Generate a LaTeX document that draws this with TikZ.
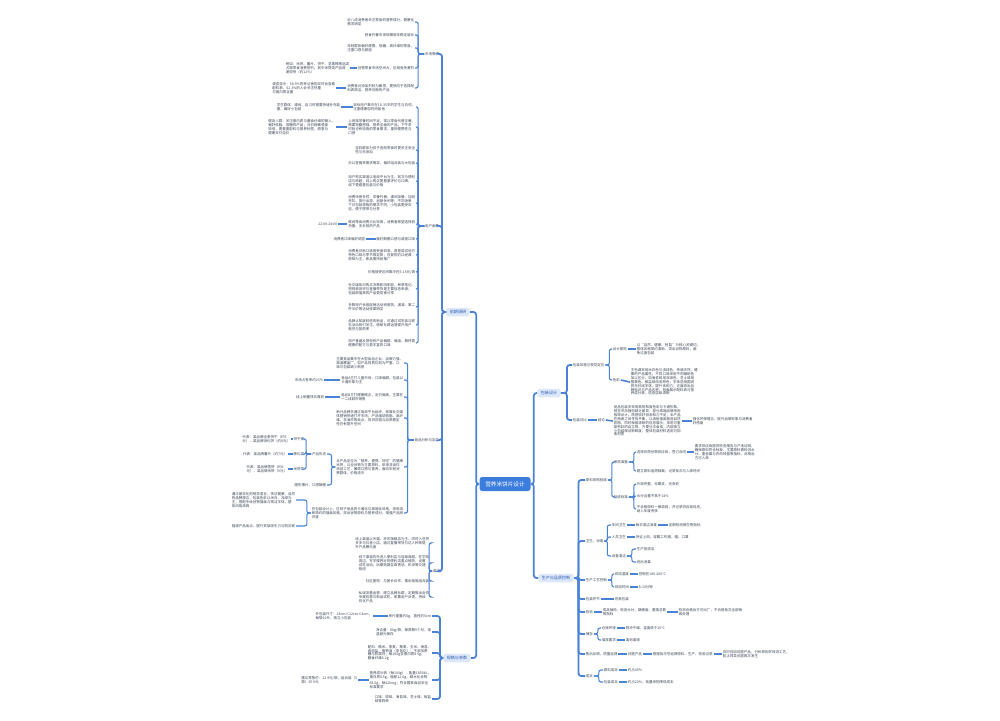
\documentclass[tikz,border=0pt]{standalone}
\usepackage{fontspec}
\setmainfont{Noto Sans CJK SC}
\usepackage{tikz}
\usetikzlibrary{positioning}
\definecolor{lineblue}{HTML}{4A82D6}
\definecolor{rootblue}{HTML}{3B7DDD}
\definecolor{mainfill}{HTML}{DCE7FA}
\definecolor{maintext}{HTML}{2E5CAE}
\definecolor{leaftext}{HTML}{3D4756}
\tikzset{
  rootnode/.style={fill=rootblue,text=white,rounded corners=1.5pt,font=\fontsize{3.2}{3.8}\selectfont,minimum width=1.02cm,minimum height=0.28cm,inner sep=0pt},
  mainnode/.style={fill=mainfill,text=maintext,rounded corners=1pt,font=\fontsize{2.3}{2.8}\selectfont,minimum height=0.17cm,inner xsep=0.07cm,inner ysep=0pt},
  leaf/.style={text=leaftext,font=\fontsize{2}{2.2}\selectfont,align=left,inner sep=0.3pt},
  trunk/.style={draw=lineblue,line width=1pt,rounded corners=1.5pt},
  twig/.style={draw=lineblue,line width=0.6pt,rounded corners=1.2pt},
  tie/.style={draw=lineblue,line width=0.9pt}
}

\begin{document}
\begin{tikzpicture}[x=0.02cm,y=-0.02cm]
\fill[white] (0,0) rectangle (1000,720);
\useasboundingbox (0,0) rectangle (1000,720);

\node[rootnode] (root) at (505,484) {营养米饼片设计};

% left: research
\node[mainnode] (pre) at (458,312) {前期调研};
\node[leaf,anchor=east] (need) at (440,54) {市场需求};
\node[leaf,anchor=east] (user) at (440,226) {用户画像};
\node[leaf,anchor=east] (rival) at (440,440) {竞品分析与定位};
\node[leaf,anchor=east] (chan) at (441,571) {渠道};

\node[leaf,anchor=east] (a1) at (415,22) {近八成消费者关注零食的营养成分，健康化\\需求明显};
\node[leaf,anchor=east] (a2) at (415,35) {轻食代餐市场规模逐年稳定增长};
\node[leaf,anchor=east] (a3) at (415,48) {年轻群体偏好便携、低糖、高纤维的零食，\\注重口感与颜值};
\node[leaf,anchor=east] (a4) at (415,68) {谷物零食市场空间大，区域竞争激烈};
\node[leaf,anchor=east] (a4x) at (350,68) {例如：米饼、薯片、饼干、坚果棒等品类\\占据零食消费前列，其中米饼类产品增\\速较快（约12\%）};
\node[leaf,anchor=east] (a5) at (415,88) {消费者对添加剂较为敏感，更倾向于选择配\\料表简洁、营养均衡的产品};
\node[leaf,anchor=east] (a5x) at (336,88) {调查显示：68.5\%的受访者购买时会查看\\配料表，52.3\%的人会关注热量\\与蛋白质含量};

\node[leaf,anchor=east] (b1) at (416,107) {目标用户集中在18-35岁的学生与白领，\\注重健康但时间紧张};
\node[leaf,anchor=east] (b1x) at (341,107) {学生群体：课间、自习时需要快速补充能\\量，偏好小包装};
\node[leaf,anchor=east] (b2) at (416,127) {上班族早餐时间不足，常以零食代替正餐，\\需要饱腹感强、营养全面的产品；下午茶\\时段也有较高的零食需求，重视便携性与\\口感};
\node[leaf,anchor=east] (b2x) at (336,127) {健身人群：关注蛋白质与膳食纤维的摄入，\\偏好低脂、低糖的产品；对价格敏感度\\较低，更看重配料与营养标签，愿意为\\健康支付溢价};
\node[leaf,anchor=east] (b3) at (416,150) {宝妈群体为孩子选购零食时更关注安全\\性与无添加};
\node[leaf,anchor=east] (b4) at (416,163) {办公室囤货需求明显，偏好组合装与大包装};
\node[leaf,anchor=east] (b5) at (416,181) {用户购买渠道以电商平台为主，其次为便利\\店与商超；线上购买更看重评价与口碑，\\线下更看重包装与价格};
\node[leaf,anchor=east] (b6) at (416,203) {消费场景多样：早餐代餐、课间加餐、加班\\充饥、旅行出游、追剧休闲等；不同场景\\下对包装规格的需求不同，小包装更受欢\\迎，便于携带与分享};
\node[leaf,anchor=east] (b7) at (416,224) {夜间零食消费占比较高，消费者希望选择低\\热量、无负担的产品};
\node[leaf,anchor=east] (b7x) at (338,224) {22:00-24:00};
\node[leaf,anchor=east] (b8) at (416,239) {偏好酥脆口感与咸香口味};
\node[leaf,anchor=east] (b8x) at (366,239) {消费者口味偏好调查};
\node[leaf,anchor=east] (b9) at (416,255) {消费者对新口味接受度较高，愿意尝试地方\\特色口味与季节限定款；但复购仍以经典\\原味为主，新品需持续推广};
\node[leaf,anchor=east] (b10) at (416,272) {价格接受区间集中在5-15元/袋};
\node[leaf,anchor=east] (b11) at (416,289) {社交媒体对购买决策影响明显，种草笔记、\\短视频测评与直播带货是主要信息来源；\\包装颜值高的产品更易被分享};
\node[leaf,anchor=east] (b12) at (416,307) {多数用户会因促销活动而囤货，满减、第二\\件半价等活动效果明显};
\node[leaf,anchor=east] (b13) at (416,325) {品牌认知度较低的新品，可通过试吃装与联\\名活动吸引关注，借助社群运营提升用户\\粘性与复购率};
\node[leaf,anchor=east] (b14) at (416,343) {用户普遍反馈现有产品偏甜、偏油，期待更\\健康的配方与更丰富的口味};

\node[leaf,anchor=east] (c1) at (404,363) {主要竞品集中在大型食品企业，品牌力强、\\渠道覆盖广，但产品同质化较为严重，口\\味与包装缺少新意};
\node[leaf,anchor=east] (c2) at (404,380) {竞品A主打儿童市场，口味偏甜，包装以\\卡通形象为主};
\node[leaf,anchor=east] (c2x) at (324,380) {市场占有率约23\%};
\node[leaf,anchor=east] (c3) at (404,397) {竞品B主打健康概念，定价偏高，主要在\\一二线城市销售};
\node[leaf,anchor=east] (c3x) at (325,397) {线上销量排名靠前};
\node[leaf,anchor=east] (c4) at (404,418) {新兴品牌多通过电商平台起步，依靠社交媒\\体营销快速打开市场；产品强调低脂、高纤\\维、非油炸等卖点，但供应链与品质稳定\\性仍有提升空间};
\node[leaf,anchor=east] (c5) at (404,467) {本产品定位为“营养、便携、好吃”的健康\\米饼，以全谷物为主要原料，采用非油炸\\烘焙工艺，兼顾口感与营养，面向年轻消\\费群体，价格适中};
\node[leaf,anchor=east] (c5a) at (327,454) {产品形态};
\node[leaf,anchor=east] (c5a1) at (305,439) {饼干类};
\node[leaf,anchor=east] (c5a1x) at (291,439) {代表：某品牌全麦饼干（约5\\元）、某品牌消化饼（约8元）};
\node[leaf,anchor=east] (c5a2) at (305,454) {膨化类};
\node[leaf,anchor=east] (c5a2x) at (288,454) {代表：某品牌薯片（约7元）};
\node[leaf,anchor=east] (c5a3) at (305,469) {米饼类};
\node[leaf,anchor=east] (c5a3x) at (288,469) {代表：某品牌雪饼（约6\\元）、某品牌米饼（9元）};
\node[leaf,anchor=east] (c5b) at (327,485) {圆形薄片，口感酥脆};
\node[leaf,anchor=east] (c6) at (404,513) {在包装设计上，区别于竞品的卡通化与高端化风格，采用清\\新简约的插画风格，突出谷物原料与营养成分，增强产品辨\\识度};
\node[leaf,anchor=east] (c6a) at (296,500) {通过差异化的视觉语言，传达健康、自然\\的品牌理念，包装色彩以米白、浅绿为\\主，搭配手绘谷物插画与简洁字体，整\\体风格清爽};
\node[leaf,anchor=east] (c6b) at (296,526) {强调产品卖点，提升货架吸引力与购买欲};

\node[leaf,anchor=east] (d1) at (430,543) {线上渠道以天猫、京东旗舰店为主，同时入驻拼\\多多与抖音小店，通过直播带货与达人种草提\\升产品曝光度};
\node[leaf,anchor=east] (d2) at (430,563) {线下渠道优先进入便利店与连锁商超，在学校\\周边、写字楼附近的便利店重点铺货，设置\\试吃活动；后期拓展至高铁站、机场等交通\\枢纽};
\node[leaf,anchor=east] (d3) at (430,581) {社区团购：与团长合作，推出家庭组合装};
\node[leaf,anchor=east] (d4) at (430,597) {私域流量运营：建立品牌社群，定期推出会员\\专属优惠与新品试吃，收集用户反馈，持续\\优化产品};

% left: specification
\node[mainnode] (spec) at (457,658) {规格与参数};
\node[leaf,anchor=east] (e1) at (432,616) {单片重量约8g，直径约5cm};
\node[leaf,anchor=east] (e1x) at (373,616) {外包装尺寸：18cm×12cm×4cm，\\每袋10片，独立小包装};
\node[leaf,anchor=east] (e2) at (432,632) {净含量：80g/袋，保质期9个月，常\\温避光保存};
\node[leaf,anchor=east] (e3) at (432,653) {配料：糙米、燕麦、藜麦、玉米、海苔、\\食用盐、植物油（非氢化）；不添加蔗\\糖与防腐剂；每100g含蛋白质8.5g，\\膳食纤维6.2g};
\node[leaf,anchor=east] (e4) at (432,680) {营养成分表（每100g）：能量1850kJ，\\蛋白质8.5g，脂肪12.0g，碳水化合物\\68.0g，钠420mg；符合国家食品安全\\标准要求};
\node[leaf,anchor=east] (e4x) at (358,680) {建议零售价：12.9元/袋，组合装（3\\袋）35.9元};
\node[leaf,anchor=east] (e5) at (432,699) {口味：原味、海苔味、芝士味、椒盐\\味等四种};

% right: package
\node[mainnode] (pack) at (549,393) {包装设计};
\node[leaf,anchor=west] (f1) at (572,365) {包装风格与视觉定位};
\node[leaf,anchor=west] (f1a) at (612,349) {设计原则};
\node[leaf,anchor=west] (f1ax) at (636,349) {以“自然、健康、轻盈”为核心关键词，\\整体风格简约清新，突出谷物原料，避\\免过度包装};
\node[leaf,anchor=west] (f1b) at (612,380) {色彩};
\node[leaf,anchor=west] (f1bx) at (630,382) {主色调采用米白色与浅绿色，传递天然、健\\康的产品属性；不同口味采用不同辅助色\\加以区分，如海苔味用深绿色、芝士味用\\橙黄色、椒盐味用浅棕色；字体选用圆润\\的无衬线字体，提升亲和力；正面突出品\\牌标识与产品名称，背面展示配料表与营\\养成分表，信息层级清晰};
\node[leaf,anchor=west] (f2) at (572,420) {包装对比};
\node[leaf,anchor=west] (f2a) at (597,420) {结论};
\node[leaf,anchor=west] (f2ax) at (613,421) {竞品包装多采用高饱和度色彩与卡通形象，\\视觉冲击强但缺乏差异；部分高端品牌采用\\极简设计，质感较好但亲和力不足；本产品\\在两者之间寻找平衡，以清新插画营造自然\\氛围，同时保留清晰的信息展示；采用可重\\复密封的自立袋，方便分次食用，内部独立\\小包装保证新鲜度，整体包装材料选用可回\\收材质};
\node[leaf,anchor=west] (f2ay) at (692,421) {强化环保理念，提升品牌形象与消费者\\好感度};

% right: production
\node[mainnode] (prod) at (556,578) {生产与品质控制};
\node[leaf,anchor=west] (g1) at (585,480) {原料采购验收};
\node[leaf,anchor=west] (g1a) at (613,462) {采购准备};
\node[leaf,anchor=west] (g1a1) at (636,452) {选择优质谷物供应商，签订合同};
\node[leaf,anchor=west] (g1a1x) at (694,452) {要求供应商提供检验报告与产地证明，\\确保原料符合标准；主要原料需检测水\\分、重金属与农药残留等指标，合格后\\方可入库};
\node[leaf,anchor=west] (g1a2) at (636,471) {建立原料追溯档案，记录批次与入库时间};
\node[leaf,anchor=west] (g1b) at (613,497) {验收标准};
\node[leaf,anchor=west] (g1b1) at (636,484) {外观完整，无霉变、无虫蛀};
\node[leaf,anchor=west] (g1b2) at (636,496) {水分含量不高于14\%};
\node[leaf,anchor=west] (g1b3) at (636,509) {不合格原料一律退回，并记录供应商信息，\\纳入年度考核};
\node[leaf,anchor=west] (g2) at (585,541) {卫生、消毒};
\node[leaf,anchor=west] (g2a) at (611,525) {车间卫生};
\node[leaf,anchor=west] (g2ax) at (635,525) {每日清洁消毒};
\node[leaf,anchor=west] (g2ay) at (668,525) {定期检测微生物指标};
\node[leaf,anchor=west] (g2b) at (611,537) {人员卫生};
\node[leaf,anchor=west] (g2bx) at (635,537) {持证上岗，穿戴工作服、帽、口罩};
\node[leaf,anchor=west] (g2c) at (611,556) {设备清洁};
\node[leaf,anchor=west] (g2c1) at (636,549) {生产前清洁};
\node[leaf,anchor=west] (g2c2) at (636,562) {班后消毒};
\node[leaf,anchor=west] (g3) at (585,580) {生产工艺控制};
\node[leaf,anchor=west] (g3a) at (614,574) {烘焙温度};
\node[leaf,anchor=west] (g3ax) at (638,574) {控制在180-200℃};
\node[leaf,anchor=west] (g3b) at (614,587) {烘焙时间};
\node[leaf,anchor=west] (g3bx) at (638,587) {8-10分钟};
\node[leaf,anchor=west] (g4) at (585,599) {包装环节};
\node[leaf,anchor=west] (g4x) at (614,599) {充氮包装};
\node[leaf,anchor=west] (g5) at (585,612) {检验};
\node[leaf,anchor=west] (g5x) at (602,612) {成品抽检，检测水分、酥脆度、菌落总数\\等指标};
\node[leaf,anchor=west] (g5y) at (678,612) {检测合格后方可出厂，不合格批次全部销\\毁处理};
\node[leaf,anchor=west] (g6) at (585,634) {储存};
\node[leaf,anchor=west] (g6a) at (601,628) {仓库环境};
\node[leaf,anchor=west] (g6ax) at (625,628) {阴凉干燥，温度低于25℃};
\node[leaf,anchor=west] (g6b) at (601,640) {堆放要求};
\node[leaf,anchor=west] (g6bx) at (625,640) {离地离墙};
\node[leaf,anchor=west] (g7) at (585,654) {售后反馈、质量追溯};
\node[leaf,anchor=west] (g7a) at (627,654) {问题产品};
\node[leaf,anchor=west] (g7b) at (652,654) {根据批次号追溯原料、生产、检验记录};
\node[leaf,anchor=west] (g7c) at (722,654) {及时召回问题产品，分析原因并改进工艺，\\防止同类问题再次发生};
\node[leaf,anchor=west] (g8) at (585,676) {成本};
\node[leaf,anchor=west] (g8a) at (603,670) {原料成本};
\node[leaf,anchor=west] (g8ax) at (627,670) {约占45\%};
\node[leaf,anchor=west] (g8b) at (603,682) {包装成本};
\node[leaf,anchor=west] (g8bx) at (627,682) {约占20\%，批量采购降低成本};

% root links
\draw[trunk] (root.west) -- ++(-3,0) |- (pre.east);
\draw[trunk] (root.west) -- ++(-3,0) |- (spec.east);
\draw[trunk] (root.east) -- ++(3,0) |- (pack.west);
\draw[trunk] (root.east) -- ++(3,0) |- (prod.west);

% research links
\draw[trunk] (pre.west) -- ++(-4,0) |- (need.east);
\draw[trunk] (pre.west) -- ++(-4,0) |- (user.east);
\draw[trunk] (pre.west) -- ++(-4,0) |- (rival.east);
\draw[trunk] (pre.west) -- ++(-4,0) |- (chan.east);
\draw[twig] (need.west) -- ++(-6,0) |- (a1.east);
\draw[twig] (need.west) -- ++(-6,0) |- (a2.east);
\draw[twig] (need.west) -- ++(-6,0) |- (a3.east);
\draw[twig] (need.west) -- ++(-6,0) |- (a4.east);
\draw[twig] (need.west) -- ++(-6,0) |- (a5.east);
\draw[tie] (a4.west) -- (a4x.east);
\draw[tie] (a5.west) -- (a5x.east);
\draw[twig] (user.west) -- ++(-6,0) |- (b1.east);
\draw[twig] (user.west) -- ++(-6,0) |- (b2.east);
\draw[twig] (user.west) -- ++(-6,0) |- (b3.east);
\draw[twig] (user.west) -- ++(-6,0) |- (b4.east);
\draw[twig] (user.west) -- ++(-6,0) |- (b5.east);
\draw[twig] (user.west) -- ++(-6,0) |- (b6.east);
\draw[twig] (user.west) -- ++(-6,0) |- (b7.east);
\draw[twig] (user.west) -- ++(-6,0) |- (b8.east);
\draw[twig] (user.west) -- ++(-6,0) |- (b9.east);
\draw[twig] (user.west) -- ++(-6,0) |- (b10.east);
\draw[twig] (user.west) -- ++(-6,0) |- (b11.east);
\draw[twig] (user.west) -- ++(-6,0) |- (b12.east);
\draw[twig] (user.west) -- ++(-6,0) |- (b13.east);
\draw[twig] (user.west) -- ++(-6,0) |- (b14.east);
\draw[tie] (b1.west) -- (b1x.east);
\draw[tie] (b2.west) -- (b2x.east);
\draw[tie] (b7.west) -- (b7x.east);
\draw[tie] (b8.west) -- (b8x.east);
\draw[twig] (rival.west) -- ++(-6,0) |- (c1.east);
\draw[twig] (rival.west) -- ++(-6,0) |- (c2.east);
\draw[twig] (rival.west) -- ++(-6,0) |- (c3.east);
\draw[twig] (rival.west) -- ++(-6,0) |- (c4.east);
\draw[twig] (rival.west) -- ++(-6,0) |- (c5.east);
\draw[twig] (rival.west) -- ++(-6,0) |- (c6.east);
\draw[tie] (c2.west) -- (c2x.east);
\draw[tie] (c3.west) -- (c3x.east);
\draw[twig] (c5.west) -- ++(-4,0) |- (c5a.east);
\draw[twig] (c5.west) -- ++(-4,0) |- (c5b.east);
\draw[twig] (c5a.west) -- ++(-5,0) |- (c5a1.east);
\draw[twig] (c5a.west) -- ++(-5,0) |- (c5a2.east);
\draw[twig] (c5a.west) -- ++(-5,0) |- (c5a3.east);
\draw[tie] (c5a1.west) -- (c5a1x.east);
\draw[tie] (c5a2.west) -- (c5a2x.east);
\draw[tie] (c5a3.west) -- (c5a3x.east);
\draw[twig] (c6.west) -- ++(-4,0) |- (c6a.east);
\draw[twig] (c6.west) -- ++(-4,0) |- (c6b.east);
\draw[twig] (chan.west) -- ++(-3,0) |- (d1.east);
\draw[twig] (chan.west) -- ++(-3,0) |- (d2.east);
\draw[twig] (chan.west) -- ++(-3,0) |- (d3.east);
\draw[twig] (chan.west) -- ++(-3,0) |- (d4.east);

% specification links
\draw[trunk] (spec.west) -- ++(-3,0) |- (e1.east);
\draw[trunk] (spec.west) -- ++(-3,0) |- (e2.east);
\draw[trunk] (spec.west) -- ++(-3,0) |- (e3.east);
\draw[trunk] (spec.west) -- ++(-3,0) |- (e4.east);
\draw[trunk] (spec.west) -- ++(-3,0) |- (e5.east);
\draw[tie] (e1.west) -- (e1x.east);
\draw[tie] (e4.west) -- (e4x.east);

% package links
\draw[trunk] (pack.east) -- ++(6,0) |- (f1.west);
\draw[trunk] (pack.east) -- ++(6,0) |- (f2.west);
\draw[twig] (f1.east) -- ++(4,0) |- (f1a.west);
\draw[twig] (f1.east) -- ++(4,0) |- (f1b.west);
\draw[tie] (f1a.east) -- (f1ax.west);
\draw[tie] (f1b.east) -- (f1bx.west);
\draw[tie] (f2.east) -- (f2a.west);
\draw[tie] (f2a.east) -- (f2ax.west);
\draw[tie] (f2ax.east) -- (f2ay.west);

% production links
\draw[trunk] (prod.east) -- ++(4.5,0) |- (g1.west);
\draw[trunk] (prod.east) -- ++(4.5,0) |- (g2.west);
\draw[trunk] (prod.east) -- ++(4.5,0) |- (g3.west);
\draw[trunk] (prod.east) -- ++(4.5,0) |- (g4.west);
\draw[trunk] (prod.east) -- ++(4.5,0) |- (g5.west);
\draw[trunk] (prod.east) -- ++(4.5,0) |- (g6.west);
\draw[trunk] (prod.east) -- ++(4.5,0) |- (g7.west);
\draw[trunk] (prod.east) -- ++(4.5,0) |- (g8.west);
\draw[twig] (g1.east) -- ++(4,0) |- (g1a.west);
\draw[twig] (g1.east) -- ++(4,0) |- (g1b.west);
\draw[twig] (g1a.east) -- ++(5,0) |- (g1a1.west);
\draw[twig] (g1a.east) -- ++(5,0) |- (g1a2.west);
\draw[tie] (g1a1.east) -- (g1a1x.west);
\draw[twig] (g1b.east) -- ++(5,0) |- (g1b1.west);
\draw[twig] (g1b.east) -- ++(5,0) |- (g1b2.west);
\draw[twig] (g1b.east) -- ++(5,0) |- (g1b3.west);
\draw[twig] (g2.east) -- ++(3,0) |- (g2a.west);
\draw[twig] (g2.east) -- ++(3,0) |- (g2b.west);
\draw[twig] (g2.east) -- ++(3,0) |- (g2c.west);
\draw[tie] (g2a.east) -- (g2ax.west);
\draw[tie] (g2ax.east) -- (g2ay.west);
\draw[tie] (g2b.east) -- (g2bx.west);
\draw[twig] (g2c.east) -- ++(5,0) |- (g2c1.west);
\draw[twig] (g2c.east) -- ++(5,0) |- (g2c2.west);
\draw[twig] (g3.east) -- ++(4,0) |- (g3a.west);
\draw[twig] (g3.east) -- ++(4,0) |- (g3b.west);
\draw[tie] (g3a.east) -- (g3ax.west);
\draw[tie] (g3b.east) -- (g3bx.west);
\draw[tie] (g4.east) -- (g4x.west);
\draw[tie] (g5.east) -- (g5x.west);
\draw[tie] (g5x.east) -- (g5y.west);
\draw[twig] (g6.east) -- ++(4,0) |- (g6a.west);
\draw[twig] (g6.east) -- ++(4,0) |- (g6b.west);
\draw[tie] (g6a.east) -- (g6ax.west);
\draw[tie] (g6b.east) -- (g6bx.west);
\draw[tie] (g7.east) -- (g7a.west);
\draw[tie] (g7a.east) -- (g7b.west);
\draw[tie] (g7b.east) -- (g7c.west);
\draw[twig] (g8.east) -- ++(5,0) |- (g8a.west);
\draw[twig] (g8.east) -- ++(5,0) |- (g8b.west);
\draw[tie] (g8a.east) -- (g8ax.west);
\draw[tie] (g8b.east) -- (g8bx.west);
\end{tikzpicture}
\end{document}
